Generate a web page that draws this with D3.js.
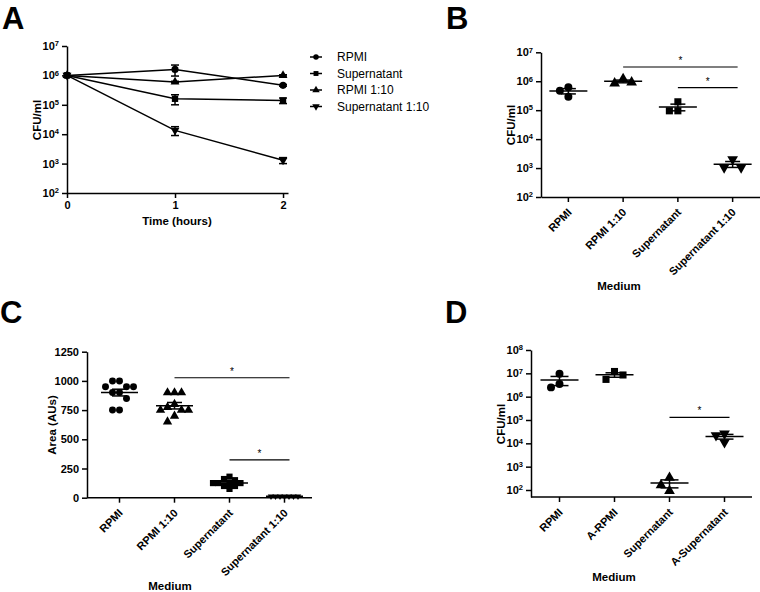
<!DOCTYPE html>
<html><head><meta charset="utf-8">
<script src="https://cdn.jsdelivr.net/npm/d3@7"></script>
<style>body{margin:0;background:#fff}</style>
</head><body><svg id="c" width="760" height="592" xmlns="http://www.w3.org/2000/svg"></svg>
<script>
// ---------- DATA ----------
// Panel A: time course
const timePoints = [0, 1, 2];
const seriesNamesA = ["RPMI", "Supernatant", "RPMI 1:10", "Supernatant 1:10"];
const aRPMI = [1e6, 1.6e6, 4.6e5];
const aRPMIerr = [0, 6.5e5, 3e4];
const aSup = [1e6, 1.6e5, 1.4e5];
const aSupErr = [0, 6e4, 3e4];
const aRPMI10 = [1e6, 6e5, 1e6];
const aRPMI10Err = [0, 3e4, 5e4];
const aSup10 = [1e6, 1.35e4, 1.3e3];
const aSup10Err = [0, 4.5e3, 3e2];
const logTicksA = [1e2, 1e3, 1e4, 1e5, 1e6, 1e7];

// Panel B
const catsB = ["RPMI", "RPMI 1:10", "Supernatant", "Supernatant 1:10"];
const bRPMI = [6.2e5, 4.7e5, 2.9e5];
const bRPMI10 = [1.2e6, 8.5e5, 9.2e5];
const bSup = [1.95e5, 9.5e4, 9.5e4];
const bSup10 = [2.0e3, 1.05e3, 1.05e3];
const logTicksB = [1e2, 1e3, 1e4, 1e5, 1e6, 1e7];
const sigB = [{from: "RPMI 1:10", to: "Supernatant 1:10", level: 3.1e6}, {from: "Supernatant", to: "Supernatant 1:10", level: 6e5}];

// Panel C
const catsC = ["RPMI", "RPMI 1:10", "Supernatant", "Supernatant 1:10"];
const cRPMI = [1000, 1000, 950, 950, 950, 900, 900, 850, 750, 750];
const cRPMI10 = [900, 900, 900, 800, 775, 750, 750, 750, 700, 650];
const cSup = [180, 160, 150, 125, 125, 125, 125, 100, 100, 75];
const cSup10 = [12, 12, 12, 12, 12, 12, 12];
const ticksC = [0, 250, 500, 750, 1000, 1250];
const sigC = [{from: "RPMI 1:10", to: "Supernatant 1:10", level: 1027}, {from: "Supernatant", to: "Supernatant 1:10", level: 323}];

// Panel D
const catsD = ["RPMI", "A-RPMI", "Supernatant", "A-Supernatant"];
const dRPMI = [9.5e6, 3.5e6, 2.5e6];
const dARPMI = [1.2e7, 5.5e6, 8.5e6];
const dSup = [340, 160, 92];
const dASup = [2.6e4, 2.2e4, 1.1e4];
const logTicksD = [1e2, 1e3, 1e4, 1e5, 1e6, 1e7, 1e8];
const sigD = [{from: "Supernatant", to: "A-Supernatant", level: 1.3e5}];

// ---------- HELPERS ----------
const FONT = '"Liberation Sans", Arial, Helvetica, sans-serif';
const svg = d3.select("#c");
const symTypes = {circle: d3.symbolCircle, square: d3.symbolSquare, triangle: d3.symbolTriangle, down: d3.symbolTriangle};

function marker(g, shape, size, x, y) {
  g.append("path")
    .attr("d", d3.symbol().type(symTypes[shape]).size(size)())
    .attr("transform", `translate(${x},${y})` + (shape === "down" ? " rotate(180)" : ""))
    .attr("fill", "#000");
}
function styleAxis(g) {
  g.select(".domain").attr("stroke", "#000").attr("stroke-width", 1.5);
  g.selectAll(".tick line").attr("stroke", "#000").attr("stroke-width", 1.5);
  g.selectAll("text").attr("font-family", FONT).attr("font-weight", "bold")
    .attr("font-size", "11px").attr("fill", "#000");
}
function powLabels(g) {
  g.selectAll(".tick text").each(function (d) {
    const e = Math.round(Math.log10(d));
    const t = d3.select(this);
    t.text(null);
    t.append("tspan").text("10");
    t.append("tspan").attr("dy", "-0.5em").attr("font-size", "7.5px").text(e);
  });
}
function rotLabels(g) {
  g.selectAll(".tick text")
    .attr("text-anchor", "end")
    .attr("x", 0).attr("y", 0).attr("dy", 0)
    .attr("transform", "translate(4,16) rotate(-45)");
}
function txt(x, y, s, opts = {}) {
  const t = svg.append("text").attr("x", x).attr("y", y).text(s)
    .attr("font-family", FONT).attr("fill", "#000")
    .attr("font-size", opts.size || "11.5px")
    .attr("font-weight", opts.weight || "bold")
    .attr("text-anchor", opts.anchor || "middle");
  return t;
}
function dodge(vals, yScale, d) {
  const placed = [];
  return vals.map(v => {
    const y = yScale(v);
    for (let k = 0; ; k++) {
      const off = k === 0 ? 0 : (k % 2 ? -1 : 1) * Math.ceil(k / 2) * d;
      if (!placed.some(p => Math.abs(p.x - off) < d * 0.99 && Math.abs(p.y - y) < d * 0.99)) {
        placed.push({x: off, y});
        return {v, off, y};
      }
    }
  });
}
function scatterPanel(cfg) {
  const g = svg.append("g");
  const {x, y, groups, meanHW, capHW} = cfg;
  groups.forEach(gr => {
    const cx = x(gr.cat) + x.bandwidth() / 2;
    const size = gr.size || cfg.size, d = gr.d || cfg.d;
    dodge(gr.vals, y, d).forEach(p => marker(g, gr.shape, size, cx + p.off, p.y));
    const m = d3.mean(gr.vals);
    const se = d3.deviation(gr.vals) / Math.sqrt(gr.vals.length) || 0;
    g.append("line").attr("x1", cx - meanHW).attr("x2", cx + meanHW)
      .attr("y1", y(m)).attr("y2", y(m)).attr("stroke", "#000").attr("stroke-width", 1.5);
    const lo = Math.max(m - se, y.domain()[0]), hi = m + se;
    g.append("line").attr("x1", cx).attr("x2", cx).attr("y1", y(lo)).attr("y2", y(hi))
      .attr("stroke", "#000").attr("stroke-width", 1.5);
    [lo, hi].forEach(v => g.append("line").attr("x1", cx - capHW).attr("x2", cx + capHW)
      .attr("y1", y(v)).attr("y2", y(v)).attr("stroke", "#000").attr("stroke-width", 1.5));
  });
  cfg.sig.forEach(s => {
    const x1 = x(s.from) + x.bandwidth() / 2, x2 = x(s.to) + x.bandwidth() / 2 + 5;
    const yy = y(s.level);
    g.append("line").attr("x1", x1).attr("x2", x2).attr("y1", yy).attr("y2", yy)
      .attr("stroke", "#000").attr("stroke-width", 1.2);
    txt((x1 + x2) / 2, yy - 3, "*", {size: "10px", weight: "normal"});
  });
}

// ---------- PANEL A ----------
const ax = d3.scaleLinear().domain([0, 2.046]).range([67, 288]);
const ay = d3.scaleLog().domain([1e2, 1e7]).range([193, 46]);
svg.append("g").attr("transform", "translate(0,193)")
  .call(d3.axisBottom(ax).tickValues(timePoints).tickFormat(d3.format("d")).tickSize(5).tickSizeOuter(0))
  .call(styleAxis);
svg.append("g").attr("transform", "translate(67,0)")
  .call(d3.axisLeft(ay).tickValues(logTicksA).tickSize(5).tickSizeOuter(0))
  .call(styleAxis).call(powLabels);
const seriesA = [
  {name: seriesNamesA[0], vals: aRPMI, errs: aRPMIerr, shape: "circle", size: 40},
  {name: seriesNamesA[1], vals: aSup, errs: aSupErr, shape: "square", size: 40},
  {name: seriesNamesA[2], vals: aRPMI10, errs: aRPMI10Err, shape: "triangle", size: 34},
  {name: seriesNamesA[3], vals: aSup10, errs: aSup10Err, shape: "down", size: 34}
];
const gA = svg.append("g");
const lineA = d3.line().x((d, i) => ax(timePoints[i])).y(d => ay(d));
seriesA.forEach(s => {
  gA.append("path").attr("d", lineA(s.vals)).attr("fill", "none").attr("stroke", "#000").attr("stroke-width", 1.5);
  s.vals.forEach((v, i) => {
    const e = s.errs[i];
    if (e > 0) {
      const cx = ax(timePoints[i]);
      gA.append("line").attr("x1", cx).attr("x2", cx).attr("y1", ay(v - e)).attr("y2", ay(v + e)).attr("stroke", "#000").attr("stroke-width", 1.5);
      [v - e, v + e].forEach(w => gA.append("line").attr("x1", cx - 4).attr("x2", cx + 4).attr("y1", ay(w)).attr("y2", ay(w)).attr("stroke", "#000").attr("stroke-width", 1.5));
    }
    marker(gA, s.shape, s.size, ax(timePoints[i]), ay(v));
  });
});
// legend
seriesA.forEach((s, i) => {
  const ly = 57 + i * 16.5;
  gA.append("line").attr("x1", 310).attr("x2", 322).attr("y1", ly).attr("y2", ly).attr("stroke", "#000").attr("stroke-width", 1.5);
  marker(gA, s.shape, 24, 316, ly);
  txt(337, ly + 4.3, s.name, {size: "12px", weight: "normal", anchor: "start"});
});
txt(0, 0, "CFU/ml").attr("transform", "translate(41,120) rotate(-90)");
txt(177, 225, "Time (hours)");

// ---------- PANEL B ----------
const bx = d3.scaleBand().domain(catsB).range([541, 760]);
const by = d3.scaleLog().domain([1e2, 1e7]).range([197, 52.3]);
svg.append("g").attr("transform", "translate(0,197)")
  .call(d3.axisBottom(bx).tickSize(5).tickSizeOuter(0)).call(styleAxis).call(rotLabels);
svg.append("g").attr("transform", "translate(541,0)")
  .call(d3.axisLeft(by).tickValues(logTicksB).tickSize(5).tickSizeOuter(0)).call(styleAxis).call(powLabels);
scatterPanel({x: bx, y: by, size: 50, d: 8.5, meanHW: 19, capHW: 7.5, sig: sigB, groups: [
  {cat: catsB[0], vals: bRPMI, shape: "circle"},
  {cat: catsB[1], vals: bRPMI10, shape: "triangle"},
  {cat: catsB[2], vals: bSup, shape: "square"},
  {cat: catsB[3], vals: bSup10, shape: "down"}]});
txt(0, 0, "CFU/ml").attr("transform", "translate(515,125) rotate(-90)");
txt(619, 290, "Medium");

// ---------- PANEL C ----------
const cx = d3.scaleBand().domain(catsC).range([92, 312]);
const cy = d3.scaleLinear().domain([0, 1250]).range([497.7, 351.7]);
const cxAxis = svg.append("g").attr("transform", "translate(0,497.7)")
  .call(d3.axisBottom(cx).tickSize(5).tickSizeOuter(0)).call(styleAxis).call(rotLabels);
cxAxis.select(".domain").attr("d", "M87,0H312");
svg.append("g").attr("transform", "translate(87,0)")
  .call(d3.axisLeft(cy).tickValues(ticksC).tickFormat(d3.format("d")).tickSize(5).tickSizeOuter(0)).call(styleAxis);
scatterPanel({x: cx, y: cy, size: 38, d: 7, meanHW: 18.5, capHW: 7.5, sig: sigC, groups: [
  {cat: catsC[0], vals: cRPMI, shape: "circle"},
  {cat: catsC[1], vals: cRPMI10, shape: "triangle"},
  {cat: catsC[2], vals: cSup, shape: "square", d: 5.5},
  {cat: catsC[3], vals: cSup10, shape: "down", size: 18, d: 4.5}]});
txt(0, 0, "Area (AUs)").attr("transform", "translate(56,425) rotate(-90)");
txt(170, 590, "Medium");

// ---------- PANEL D ----------
const dx = d3.scaleBand().domain(catsD).range([532, 752]);
const dy = d3.scaleLog().domain([Math.pow(10, 1.7), 1e8]).range([497, 350]);
const dxAxis = svg.append("g").attr("transform", "translate(0,497)")
  .call(d3.axisBottom(dx).tickSize(5).tickSizeOuter(0)).call(styleAxis).call(rotLabels);
dxAxis.select(".domain").attr("d", "M531,0H752");
svg.append("g").attr("transform", "translate(531,0)")
  .call(d3.axisLeft(dy).tickValues(logTicksD).tickSize(5).tickSizeOuter(0)).call(styleAxis).call(powLabels);
scatterPanel({x: dx, y: dy, size: 50, d: 8.5, meanHW: 19, capHW: 9, sig: sigD, groups: [
  {cat: catsD[0], vals: dRPMI, shape: "circle"},
  {cat: catsD[1], vals: dARPMI, shape: "square"},
  {cat: catsD[2], vals: dSup, shape: "triangle"},
  {cat: catsD[3], vals: dASup, shape: "down"}]});
txt(0, 0, "CFU/ml").attr("transform", "translate(505,424) rotate(-90)");
txt(614, 581, "Medium");

// ---------- PANEL LETTERS ----------
txt(2, 28.5, "A", {size: "31px", anchor: "start"});
txt(446, 28.5, "B", {size: "31px", anchor: "start"});
txt(0, 323, "C", {size: "31px", anchor: "start"});
txt(445, 323, "D", {size: "31px", anchor: "start"});
</script>
</body></html>
